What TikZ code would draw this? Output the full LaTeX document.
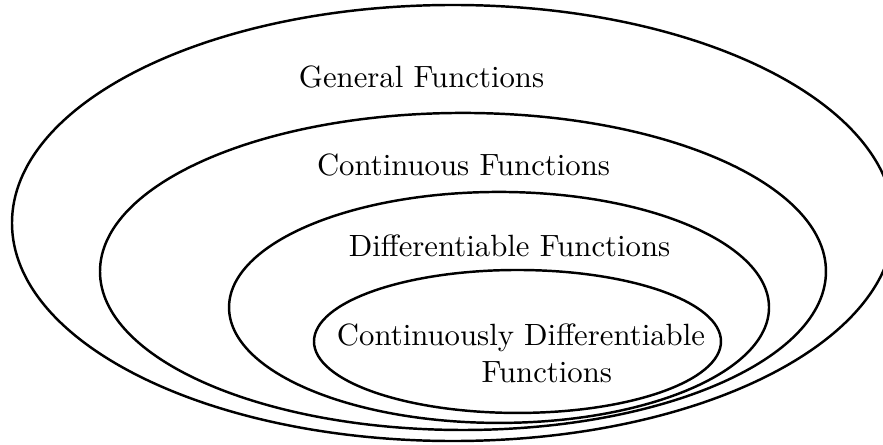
\documentclass[tikz,border=0pt]{standalone}
\usepackage{tikz}
\usetikzlibrary{positioning, calc}
\tikzset{
	setline/.style={thick},
	setlabel/.style={inner sep=0pt}
}
\begin{document}
\begin{tikzpicture}
	\useasboundingbox (0,0) rectangle (10.093,5.086);
	% Centers of the nested sets
	\coordinate (general_center) at (5.178,2.537);
	\coordinate (cont_center) at (5.292,1.983);
	\coordinate (diff_center) at (5.704,1.572);
	\coordinate (cdiff_center) at (5.915,1.183);
	
	% Draw the nested ellipses (outer to inner)
	\draw[setline] (general_center) ellipse [x radius=5.041, y radius=2.492];
	\draw[setline] (cont_center) ellipse [x radius=4.149, y radius=1.812];
	\draw[setline] (diff_center) ellipse [x radius=3.086, y radius=1.320];
	\draw[setline] (cdiff_center) ellipse [x radius=2.326, y radius=0.817];
	
	% Labels for each set
	\node[setlabel] (general) at (4.818,4.206) {General Functions};
	\node[setlabel] (cont) at (5.298,3.200) {Continuous Functions};
	\node[setlabel] (diff) at (5.824,2.275) {Differentiable Functions};
	\node[setlabel, align=left] (cdiff) at (5.955,1.046) {Continuously Differentiable\\\hspace*{47pt}Functions};
\end{tikzpicture}
\end{document}
